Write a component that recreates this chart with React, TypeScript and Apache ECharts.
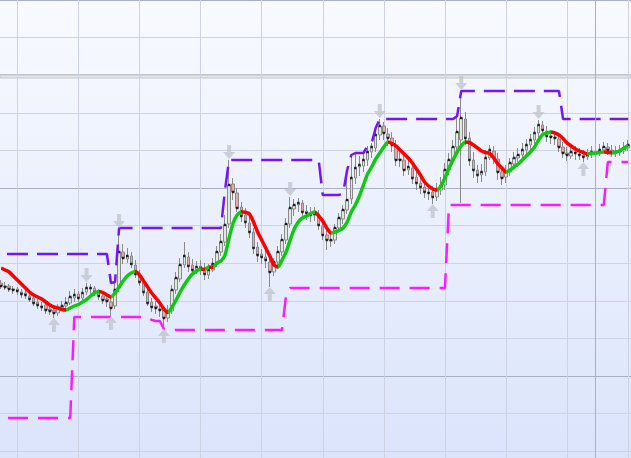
import React, { useEffect, useRef } from "react";
import * as echarts from "echarts";

// ---- data (price units) ----
const categories: string[] = Array.from({ length: 155 }, (_, i) => `${i + 1}`);

const opens = [
  71.7, 71.4, 71.4, 71.1, 71.1, 70.8, 70.7, 70.4, 70.2, 69.8,
  69.4, 69.5, 69.1, 69.0, 68.7, 69.2, 69.4, 69.7, 70.2, 70.6,
  70.2, 70.8, 71.1, 71.2, 70.7, 70.4, 70.1, 69.8, 69.4, 71.2,
  74.8, 74.1, 74.4, 73.5, 72.6, 71.7, 70.8, 69.8, 69.4, 69.1,
  69.0, 68.2, 68.9, 71.0, 72.1, 73.5, 74.3, 73.5, 73.0, 73.4,
  73.2, 72.5, 73.0, 73.6, 74.8, 75.8, 77.6, 81.6, 80.7, 79.3,
  78.5, 77.7, 76.8, 75.3, 74.6, 74.3, 73.8, 72.8, 73.8, 74.8,
  76.0, 77.6, 79.1, 79.5, 79.7, 78.9, 78.6, 78.5, 78.6, 77.4,
  76.5, 75.9, 76.0, 77.2, 78.1, 79.0, 80.1, 82.2, 83.3, 83.4,
  84.0, 84.8, 85.2, 86.5, 87.4, 86.6, 86.2, 85.4, 84.1, 84.0,
  83.0, 83.2, 82.3, 81.7, 81.3, 80.8, 80.8, 80.3, 81.0, 81.5,
  83.0, 84.0, 85.3, 86.0, 88.1, 86.2, 84.0, 83.0, 82.5, 82.8,
  84.2, 84.9, 84.1, 82.8, 82.3, 82.8, 83.6, 84.2, 84.5, 85.0,
  85.5, 86.0, 86.7, 87.5, 86.9, 86.4, 86.3, 86.1, 85.3, 84.7,
  84.4, 84.8, 84.6, 84.5, 84.3, 84.5, 84.8, 84.7, 85.0, 85.3,
  85.0, 84.9, 84.8, 84.9, 85.2,
];
const closes = [
  71.4, 71.3, 71.1, 71.0, 70.9, 70.6, 70.5, 70.1, 69.7, 69.5,
  69.3, 69.0, 68.9, 68.7, 69.2, 69.4, 69.7, 70.3, 70.5, 70.2,
  70.7, 71.2, 71.2, 70.8, 70.4, 70.0, 69.9, 69.2, 71.0, 74.8,
  74.2, 74.4, 73.6, 72.6, 71.8, 70.8, 69.7, 69.3, 69.2, 69.0,
  68.2, 68.8, 71.0, 72.2, 73.5, 74.4, 73.4, 73.0, 73.3, 73.2,
  72.6, 73.0, 73.6, 74.8, 75.8, 77.5, 81.5, 80.8, 79.2, 78.4,
  77.8, 76.8, 75.2, 74.5, 74.3, 74.0, 72.8, 73.8, 74.8, 76.0,
  77.6, 79.2, 79.5, 79.7, 78.8, 78.7, 78.5, 78.6, 77.5, 76.5,
  76.0, 76.0, 77.2, 78.2, 79.0, 80.0, 82.2, 83.2, 83.5, 84.0,
  84.8, 85.3, 86.5, 87.4, 86.7, 86.2, 85.5, 84.0, 84.0, 83.0,
  83.3, 82.2, 81.7, 81.3, 80.8, 80.7, 80.3, 81.0, 81.4, 83.0,
  84.0, 85.3, 86.8, 88.2, 86.2, 84.0, 83.0, 82.5, 82.8, 84.2,
  85.0, 84.2, 82.8, 82.2, 82.8, 83.7, 84.2, 84.5, 85.0, 85.5,
  86.0, 86.7, 87.5, 87.0, 86.4, 86.3, 86.2, 85.3, 84.7, 84.5,
  84.8, 84.7, 84.5, 84.3, 84.5, 84.8, 84.7, 85.0, 85.3, 85.0,
  84.8, 84.8, 84.9, 85.2, 85.5,
];
const highs = [
  72.0, 71.8, 71.6, 71.4, 71.3, 71.1, 71.0, 70.7, 70.5, 70.1,
  69.8, 69.7, 69.4, 69.3, 69.6, 69.9, 70.3, 70.9, 71.1, 70.9,
  71.2, 71.7, 71.6, 71.4, 71.1, 70.7, 70.5, 70.2, 71.7, 77.1,
  75.6, 75.2, 74.8, 74.0, 73.0, 72.2, 71.2, 70.2, 69.9, 69.7,
  69.4, 69.5, 71.5, 72.8, 74.2, 75.8, 74.8, 74.1, 73.9, 74.0,
  73.7, 73.6, 74.2, 75.4, 76.6, 78.5, 84.0, 82.2, 81.2, 79.8,
  79.2, 78.4, 77.2, 75.8, 75.1, 75.0, 74.4, 74.2, 75.4, 76.6,
  78.2, 80.3, 80.1, 80.2, 80.0, 79.5, 79.3, 79.3, 79.0, 77.9,
  77.0, 76.7, 77.6, 78.7, 79.5, 83.0, 84.5, 84.7, 84.4, 84.7,
  85.4, 85.7, 87.2, 88.1, 87.8, 87.2, 86.8, 86.0, 85.0, 84.5,
  84.0, 83.7, 82.8, 82.2, 81.8, 81.5, 81.4, 81.7, 82.3, 83.7,
  84.7, 86.0, 88.4, 90.9, 88.8, 86.8, 84.8, 83.5, 83.6, 85.0,
  85.5, 85.4, 84.7, 83.4, 83.5, 84.2, 84.8, 85.2, 85.7, 86.1,
  86.6, 87.3, 88.0, 87.9, 87.4, 87.0, 86.9, 86.6, 85.8, 85.3,
  85.4, 85.4, 85.2, 85.0, 85.1, 85.4, 85.3, 85.6, 85.8, 85.7,
  85.5, 85.4, 85.5, 85.8, 86.0,
];
const lows = [
  71.1, 71.0, 70.8, 70.6, 70.5, 70.2, 70.1, 69.8, 69.4, 69.1,
  68.9, 68.6, 68.5, 68.2, 68.4, 68.9, 69.1, 69.5, 69.8, 69.8,
  70.0, 70.5, 70.6, 70.4, 70.0, 69.6, 69.3, 68.4, 69.1, 70.8,
  73.6, 73.7, 73.2, 72.2, 71.4, 70.4, 69.4, 68.8, 68.6, 68.3,
  67.1, 67.8, 68.6, 70.6, 71.8, 73.2, 72.8, 72.4, 72.6, 72.5,
  72.0, 72.1, 72.8, 73.3, 74.4, 75.4, 77.2, 80.0, 78.8, 77.8,
  77.2, 76.2, 74.6, 73.8, 73.6, 73.2, 71.3, 72.4, 73.4, 74.4,
  75.6, 77.2, 78.4, 78.8, 78.2, 78.0, 77.8, 77.9, 77.0, 76.0,
  75.0, 75.3, 75.6, 76.8, 77.6, 78.6, 79.6, 81.6, 82.4, 82.8,
  83.4, 84.2, 84.8, 86.0, 86.0, 85.4, 84.8, 83.4, 83.3, 82.4,
  82.5, 81.6, 81.0, 80.6, 80.2, 80.0, 79.6, 79.9, 80.5, 81.0,
  82.5, 83.5, 84.8, 79.7, 85.5, 83.4, 82.2, 81.7, 81.8, 82.4,
  84.0, 83.6, 82.0, 81.5, 81.7, 82.4, 83.2, 83.8, 84.2, 84.6,
  85.0, 85.5, 86.2, 86.4, 85.8, 85.6, 85.5, 84.8, 84.2, 83.9,
  84.1, 84.0, 84.0, 83.8, 84.0, 84.2, 84.2, 84.4, 84.7, 84.5,
  84.3, 84.3, 84.4, 84.6, 84.9,
];
const trendLine = [
  73.2, 73.0, 72.8, 72.4, 72.0, 71.6, 71.2, 70.8, 70.5, 70.3,
  70.1, 69.8, 69.5, 69.3, 69.2, 69.05, 69.0, 69.2, 69.4, 69.55,
  69.8, 70.05, 70.4, 70.7, 70.85, 70.75, 70.5, 70.3, 70.7, 71.3,
  71.9, 72.4, 72.7, 72.85, 72.5, 71.9, 71.3, 70.7, 70.2, 69.7,
  69.1, 68.75, 69.3, 70.0, 70.8, 71.5, 72.1, 72.6, 72.9, 73.1,
  73.05, 73.3, 73.27, 73.7, 73.9, 74.5, 76.2, 77.7, 78.5, 78.82,
  78.77, 78.6, 77.8, 76.8, 76.0, 75.2, 74.4, 73.5, 73.3, 74.0,
  74.8, 76.0, 77.1, 77.8, 78.2, 78.4, 78.65, 78.8, 78.4, 77.9,
  77.2, 76.7, 76.8, 76.95, 77.2, 77.8, 78.8, 79.5, 80.4, 81.5,
  82.6, 83.3, 84.1, 84.7, 85.3, 85.8, 85.65, 85.4, 85.0, 84.6,
  84.2, 83.7, 83.1, 82.5, 81.8, 81.4, 81.1, 81.0, 81.4, 82.2,
  83.2, 84.0, 84.8, 85.4, 85.8, 85.75, 85.5, 85.2, 84.9, 84.75,
  84.65, 84.2, 83.6, 83.2, 82.8, 83.0, 83.3, 83.6, 84.0, 84.4,
  84.8, 85.3, 86.0, 86.55, 86.7, 86.8, 86.7, 86.5, 86.15, 85.7,
  85.4, 85.1, 84.9, 84.75, 84.62, 84.67, 84.7, 84.74, 84.8, 84.76,
  84.72, 84.78, 84.95, 85.2, 85.45,
];
const upperBand = [
  74.6, 74.6, 74.6, 74.6, 74.6, 74.6, 74.6, 74.6, 74.6, 74.6,
  74.6, 74.6, 74.6, 74.6, 74.6, 74.6, 74.6, 74.6, 74.6, 74.6,
  74.6, 74.6, 74.6, 74.6, 74.6, 74.6, 74.6, 71.7, 71.8, 77.2,
  77.2, 77.2, 77.2, 77.2, 77.2, 77.2, 77.2, 77.2, 77.2, 77.2,
  77.2, 77.2, 77.2, 77.2, 77.2, 77.2, 77.2, 77.2, 77.2, 77.2,
  77.2, 77.2, 77.2, 77.2, 77.2, 81.0, 84.0, 84.0, 84.0, 84.0,
  84.0, 84.0, 84.0, 84.0, 84.0, 84.0, 84.0, 84.0, 84.0, 84.0,
  84.0, 84.0, 84.0, 84.0, 84.0, 84.0, 84.0, 84.0, 84.0, 80.5,
  80.5, 80.5, 80.5, 80.5, 80.7, 83.0, 84.5, 84.7, 84.7, 84.7,
  85.4, 85.7, 87.2, 88.1, 88.1, 88.1, 88.1, 88.1, 88.1, 88.1,
  88.1, 88.1, 88.1, 88.1, 88.1, 88.1, 88.1, 88.1, 88.1, 88.1,
  88.1, 88.1, 88.4, 90.9, 90.9, 90.9, 90.9, 90.9, 90.9, 90.9,
  90.9, 90.9, 90.9, 90.9, 90.9, 90.9, 90.9, 90.9, 90.9, 90.9,
  90.9, 90.9, 90.9, 90.9, 90.9, 90.9, 90.9, 90.9, 88.1, 88.1,
  88.1, 88.1, 88.1, 88.1, 88.1, 88.1, 88.1, 88.1, 88.1, 88.1,
  88.1, 88.1, 88.1, 88.1, 88.1,
];
const lowerBand = [
  58.2, 58.2, 58.2, 58.2, 58.2, 58.2, 58.2, 58.2, 58.2, 58.2,
  58.2, 58.2, 58.2, 58.2, 58.2, 58.2, 58.2, 58.2, 68.3, 68.3,
  68.3, 68.3, 68.3, 68.3, 68.3, 68.3, 68.3, 68.3, 68.3, 68.3,
  68.3, 68.3, 68.3, 68.3, 68.3, 68.3, 68.3, 68.0, 67.9, 67.9,
  67.1, 67.0, 67.0, 67.0, 67.0, 67.0, 67.0, 67.0, 67.0, 67.0,
  67.0, 67.0, 67.0, 67.0, 67.0, 67.0, 67.0, 67.0, 67.0, 67.0,
  67.0, 67.0, 67.0, 67.0, 67.0, 67.0, 67.0, 67.0, 67.0, 67.0,
  70.5, 71.2, 71.2, 71.2, 71.2, 71.2, 71.2, 71.2, 71.2, 71.2,
  71.2, 71.2, 71.2, 71.2, 71.2, 71.2, 71.2, 71.2, 71.2, 71.2,
  71.2, 71.2, 71.2, 71.2, 71.2, 71.2, 71.2, 71.2, 71.2, 71.2,
  71.2, 71.2, 71.2, 71.2, 71.2, 71.2, 71.2, 71.2, 71.2, 71.2,
  79.5, 79.5, 79.5, 79.5, 79.5, 79.5, 79.5, 79.5, 79.5, 79.5,
  79.5, 79.5, 79.5, 79.5, 79.5, 79.5, 79.5, 79.5, 79.5, 79.5,
  79.5, 79.5, 79.5, 79.5, 79.5, 79.5, 79.5, 79.5, 79.5, 79.5,
  79.5, 79.5, 79.5, 79.5, 79.5, 79.5, 79.5, 79.5, 79.5, 83.8,
  83.8, 83.8, 83.8, 83.8, 83.8,
];
const swingHighIdx = [21, 29, 56, 71, 93, 113, 132];
const swingLowIdx = [13, 27, 40, 66, 106, 143];

// ---- styles ----
const RED = "#ff0000";
const GREEN = "#11c811";
const PURPLE = "#7414f8";
const MAGENTA = "#ff19ff";
const GRID_LIGHT = "#cdd3e2";
const GRID_DARK = "#a9afc6";
const ARROW = "#c2c6d0";
const DOWN_ARROW = "path://M4,0 L8,0 L8,7 L12,7 L6,14 L0,7 L4,7 Z";
const UP_ARROW = "path://M6,0 L12,7 L8,7 L8,14 L4,14 L4,7 L0,7 Z";

function trendPieces(vals: number[]) {
  const pieces: any[] = [];
  const up = (k: number) => vals[k + 1] >= vals[k];
  let start = 0;
  for (let k = 1; k <= vals.length - 1; k++) {
    if (k === vals.length - 1 || up(k) !== up(start)) {
      const p: any = { lte: k, color: up(start) ? GREEN : RED };
      if (start === 0) p.gte = 0;
      else p.gt = start;
      pieces.push(p);
      start = k;
    }
  }
  return pieces;
}

const hiddenAxis = {
  axisLine: { show: false },
  axisTick: { show: false },
  axisLabel: { show: false },
};

export default function App() {
  const ref = useRef<HTMLDivElement>(null);
  useEffect(() => {
    if (!ref.current) return;
    const chart = echarts.init(ref.current, undefined, { renderer: "svg" });
    const candles = opens.map((o, i) => [o, closes[i], lows[i], highs[i]]);
    chart.setOption({
      animation: false,
      graphic: [
        {
          type: "rect",
          silent: true,
          z: 0,
          shape: { x: 0, y: 74.5, width: 631, height: 3.5 },
          style: { fill: "#e5e6eb", stroke: "#c3c5cc", lineWidth: 1 },
        },
      ],
      grid: [
        { left: 1, right: 2.8, top: 0, bottom: 0 },
        { left: 17.3, right: 0, top: 0, bottom: 0 },
        { left: 0, right: 0, top: 0, bottom: 0 },
      ],
      xAxis: [
        { type: "category", gridIndex: 0, data: categories, boundaryGap: false, show: false },
        {
          type: "value",
          gridIndex: 1,
          min: 0,
          max: 10.044,
          interval: 1,
          ...hiddenAxis,
          splitLine: { show: true, lineStyle: { color: GRID_LIGHT, width: 1 } },
        },
        { type: "value", gridIndex: 2, min: 0, max: 1, show: false },
      ],
      yAxis: [
        { type: "value", gridIndex: 0, min: 54.2, max: 100, show: false },
        { type: "value", gridIndex: 1, min: 0, max: 1, show: false },
        {
          type: "value",
          gridIndex: 2,
          inverse: true,
          min: 0,
          max: 12.181,
          interval: 1,
          ...hiddenAxis,
          splitLine: { show: true, lineStyle: { color: GRID_LIGHT, width: 1 } },
        },
        {
          type: "value",
          gridIndex: 2,
          inverse: true,
          min: 0,
          max: 12.181,
          interval: 5,
          ...hiddenAxis,
          splitLine: { show: true, lineStyle: { color: GRID_DARK, width: 1 } },
        },
      ],
      visualMap: {
        type: "piecewise",
        show: false,
        dimension: 0,
        seriesIndex: 4,
        pieces: trendPieces(trendLine),
      },
      series: [
        {
          type: "candlestick",
          xAxisIndex: 0,
          yAxisIndex: 0,
          barWidth: 3,
          silent: true,
          z: 2,
          itemStyle: {
            color: "#dcebd6",
            color0: "#eda4a4",
            borderColor: "#8a8a8a",
            borderColor0: "#8a8a8a",
            borderWidth: 1,
          },
          data: candles,
          markLine: {
            silent: true,
            symbol: "none",
            label: { show: false },
            lineStyle: { color: GRID_DARK, width: 1, type: "solid" },
            data: [{ xAxis: 146 }],
          },
        },
        {
          type: "scatter",
          xAxisIndex: 0,
          yAxisIndex: 0,
          silent: true,
          z: 3,
          symbol: "rect",
          symbolSize: 2.5,
          itemStyle: { color: "#000" },
          data: closes.map((c, i) => [i, c]),
        },
        {
          type: "line",
          xAxisIndex: 0,
          yAxisIndex: 0,
          silent: true,
          z: 4,
          showSymbol: false,
          data: upperBand,
          lineStyle: { color: PURPLE, width: 2.5, type: [21, 9], dashOffset: 24 },
        },
        {
          type: "line",
          xAxisIndex: 0,
          yAxisIndex: 0,
          silent: true,
          z: 4,
          showSymbol: false,
          data: lowerBand,
          lineStyle: { color: MAGENTA, width: 2.5, type: [20, 10], dashOffset: 23 },
        },
        {
          type: "line",
          xAxisIndex: 0,
          yAxisIndex: 0,
          silent: true,
          z: 5,
          showSymbol: false,
          smooth: 0.2,
          data: trendLine,
          lineStyle: { width: 3.5 },
        },
        {
          type: "scatter",
          xAxisIndex: 0,
          yAxisIndex: 0,
          silent: true,
          z: 6,
          symbol: DOWN_ARROW,
          symbolSize: [12, 14],
          symbolOffset: [0, -8],
          itemStyle: { color: ARROW },
          data: swingHighIdx.map((i) => [i, highs[i]]),
        },
        {
          type: "scatter",
          xAxisIndex: 0,
          yAxisIndex: 0,
          silent: true,
          z: 6,
          symbol: UP_ARROW,
          symbolSize: [12, 14],
          symbolOffset: [0, 7],
          itemStyle: { color: ARROW },
          data: swingLowIdx.map((i) => [i, lows[i]]),
        },
      ],
    });
    return () => chart.dispose();
  }, []);
  return (
    <div
      ref={ref}
      style={{
        position: "fixed",
        left: 0,
        top: 0,
        width: 631,
        height: 458,
        background: "linear-gradient(180deg, #f8faff 0%, #dbe4fb 100%)",
      }}
    />
  );
}
